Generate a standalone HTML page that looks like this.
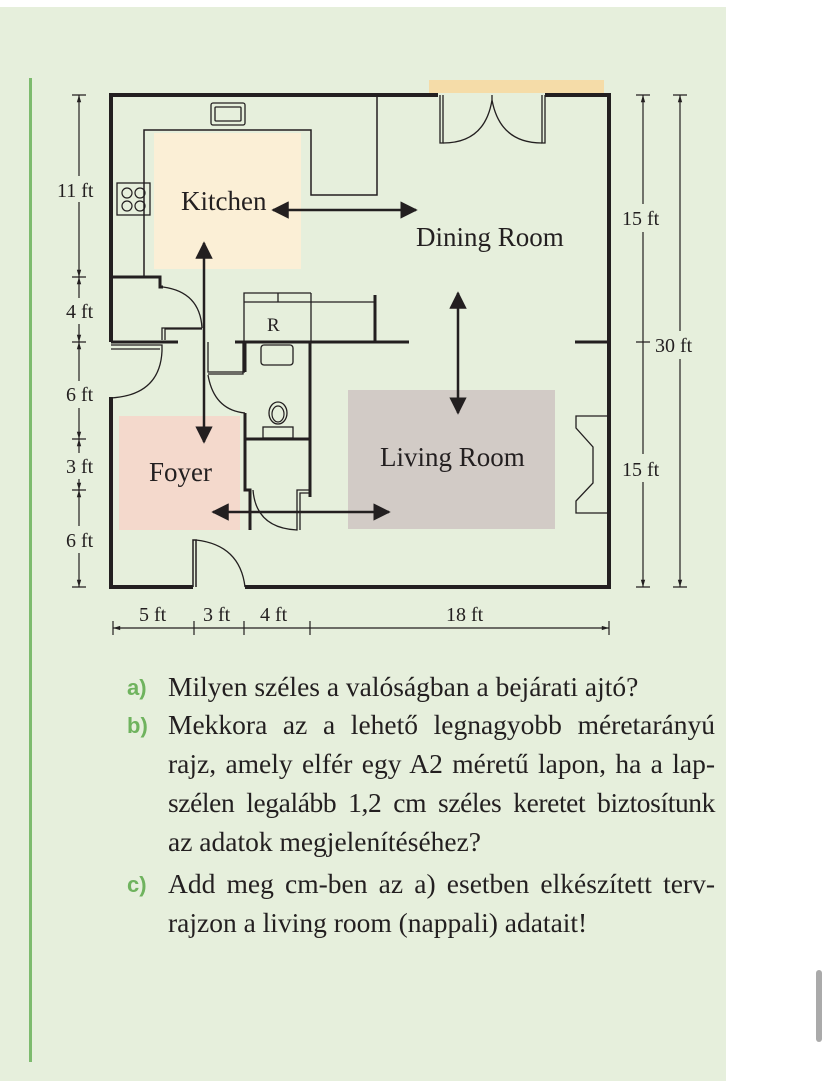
<!DOCTYPE html>
<html><head><meta charset="utf-8"><style>
body{margin:0;width:828px;height:1086px;background:#fff;position:relative;overflow:hidden;font-family:"Liberation Serif",serif}
.panel{position:absolute;left:0;top:7px;width:726px;height:1074px;background:#e6efdc}
.bar{position:absolute;left:29px;top:78px;width:3px;height:984px;background:#7dbb6e}
.sb{position:absolute;left:816px;top:970px;width:6px;height:72px;background:#aaa;border-radius:3px}
.ln{position:absolute;left:168px;width:547px;font-size:27.5px;color:#231f20;white-space:nowrap;line-height:32px}
.j{text-align:justify;text-align-last:justify}
.lb{position:absolute;left:127px;font-family:"Liberation Sans",sans-serif;font-weight:bold;color:#6fb35e;font-size:22px;line-height:32px}
</style></head><body>
<div class="panel"></div><div class="bar"></div><div class="sb"></div>
<svg width="828" height="1086" style="position:absolute;left:0;top:0" font-family="Liberation Serif, serif" fill="#231f20">
<defs>
<marker id="ah" viewBox="0 0 10 10" refX="9" refY="5" markerWidth="7" markerHeight="7" orient="auto-start-reverse"><path d="M0,0L10,5L0,10z" fill="#231f20"/></marker>
<marker id="sa" viewBox="0 0 10 10" refX="10" refY="5" markerWidth="10" markerHeight="6" orient="auto-start-reverse"><path d="M0,2L10,5L0,8z" fill="#231f20"/></marker>
</defs>
<rect x="429" y="80" width="175" height="13" fill="#f5dca8"/>
<rect x="154" y="133" width="147" height="136" fill="#fbefd6"/>
<rect x="348" y="390" width="207" height="139" fill="#d2cbc6"/>
<rect x="119" y="416" width="121" height="114" fill="#f4d9cc"/>
<g stroke="#231f20" fill="none">
<path d="M438,95H111V342" stroke-width="4"/>
<path d="M545,95H609V587H245" stroke-width="4"/>
<path d="M111,397V587H193" stroke-width="4"/>
<path d="M440,95V143H443V95M545,95V143H542V95" stroke-width="1.3"/>
<path d="M443,143Q485,143 492,100M542,143Q500,143 492,100M492,95V101" stroke-width="1.3"/>
<path d="M144,277V130H311V195H377V97" stroke-width="1.5"/>
<rect x="211" y="103" width="34" height="22" rx="2" stroke-width="1.3"/>
<rect x="215" y="107" width="26" height="14" rx="1" stroke-width="1.3"/>
<rect x="117" y="183" width="33" height="32" stroke-width="1.3"/>
<circle cx="127" cy="193" r="5" stroke-width="1.2"/><circle cx="140" cy="193" r="5" stroke-width="1.2"/>
<circle cx="127" cy="206" r="5" stroke-width="1.2"/><circle cx="140" cy="206" r="5" stroke-width="1.2"/>
<path d="M111,277H160V287H163" stroke-width="3"/>
<path d="M163,287Q200,292 202,328" stroke-width="1.3"/>
<path d="M202,328H162V340M202,329H165V340" stroke-width="1.3"/>
<path d="M111,342H178M235,342H409" stroke-width="3"/>
<path d="M111,345H162V351M111,349H160" stroke-width="1.3"/>
<path d="M162,351Q160,395 111,398" stroke-width="1.3"/>
<path d="M244,342V293H311M244,302H375M278,293V302M311,293V342" stroke-width="1.3"/>
<path d="M375,295V342" stroke-width="3"/>
<path d="M208,342V372H245M208,374H243V342" stroke-width="1.3"/>
<path d="M245,342V372" stroke-width="3"/>
<path d="M208,375Q214,410 245,413" stroke-width="1.3"/>
<path d="M245,413V490H250V530M310,342V497" stroke-width="3"/>
<path d="M245,439H310" stroke-width="3"/>
<rect x="261" y="345" width="32" height="20" rx="3" stroke-width="1.3"/>
<ellipse cx="278" cy="413" rx="9" ry="11" stroke-width="1.3"/>
<ellipse cx="278" cy="414" rx="6" ry="8" stroke-width="1.2"/>
<rect x="263" y="427" width="30" height="11" stroke-width="1.3"/>
<path d="M253,490Q256,528 297,530V490H310M300,530V493H310" stroke-width="1.3"/>
<path d="M193,587V540H196V587" stroke-width="1.5"/>
<path d="M196,540Q240,545 245,587" stroke-width="1.3"/>
<path d="M575,342H609" stroke-width="3"/>
<path d="M609,416H576V428L593,447V483L576,501V513H609" stroke-width="1.3"/>
<path d="M273,210H416" stroke-width="2.5" marker-start="url(#ah)" marker-end="url(#ah)"/>
<path d="M204,243V442" stroke-width="2.5" marker-start="url(#ah)" marker-end="url(#ah)"/>
<path d="M458,293V413" stroke-width="2.5" marker-start="url(#ah)" marker-end="url(#ah)"/>
<path d="M213,512H389" stroke-width="2.5" marker-start="url(#ah)" marker-end="url(#ah)"/>
<g stroke-width="1.2">
<path d="M72,95H86M72,277H86M72,342H86M72,439H86M72,490H86M72,587H86"/>
<path d="M79,95V176M79,202V277" marker-start="url(#sa)" marker-end="url(#sa)"/>
<path d="M79,277V298M79,324V342" marker-start="url(#sa)" marker-end="url(#sa)"/>
<path d="M79,342V381M79,408V439" marker-start="url(#sa)" marker-end="url(#sa)"/>
<path d="M79,439V453M79,479V490" marker-start="url(#sa)" marker-end="url(#sa)"/>
<path d="M79,490V526M79,553V587" marker-start="url(#sa)" marker-end="url(#sa)"/>
<path d="M636,95H650M636,342H650M636,587H650M673,95H687M673,587H687"/>
<path d="M643,95V204M643,232V342M643,342V454M643,482V587" marker-start="url(#sa)" marker-end="url(#sa)"/>
<path d="M680,95V331M680,359V587" marker-start="url(#sa)" marker-end="url(#sa)"/>
<path d="M113,621V635M194,621V635M244,621V635M310,621V635M609,621V635"/>
<path d="M113,628H194M194,628H244M244,628H310M310,628H609" marker-start="url(#sa)" marker-end="url(#sa)"/>
</g>
</g>
<g font-size="27">
<text x="181" y="210">Kitchen</text>
<text x="416" y="246">Dining Room</text>
<text x="380" y="466">Living Room</text>
<text x="149" y="481">Foyer</text>
</g>
<text x="267" y="331" font-size="19">R</text>
<g font-size="20">
<text x="57" y="197">11 ft</text>
<text x="66" y="318">4 ft</text>
<text x="66" y="401">6 ft</text>
<text x="66" y="473">3 ft</text>
<text x="66" y="547">6 ft</text>
<text x="622" y="225">15 ft</text>
<text x="622" y="476">15 ft</text>
<text x="655" y="352">30 ft</text>
<text x="139" y="621">5 ft</text>
<text x="203" y="621">3 ft</text>
<text x="260" y="621">4 ft</text>
<text x="446" y="621">18 ft</text>
</g>
</svg>
<div class="lb" style="top:672px">a)</div>
<div class="ln" style="top:671px">Milyen széles a valóságban a bejárati ajtó?</div>
<div class="lb" style="top:710px">b)</div>
<div class="ln j" style="top:709px">Mekkora az a lehető legnagyobb méretarányú</div>
<div class="ln j" style="top:748px">rajz, amely elfér egy A2 méretű lapon, ha a lap-</div>
<div class="ln j" style="top:787px;letter-spacing:-0.4px;word-spacing:-1px">szélen legalább 1,2 cm széles keretet biztosítunk</div>
<div class="ln" style="top:826px">az adatok megjelenítéséhez?</div>
<div class="lb" style="top:869px">c)</div>
<div class="ln j" style="top:868px">Add meg cm-ben az a) esetben elkészített terv-</div>
<div class="ln" style="top:907px">rajzon a living room (nappali) adatait!</div>
</body></html>
